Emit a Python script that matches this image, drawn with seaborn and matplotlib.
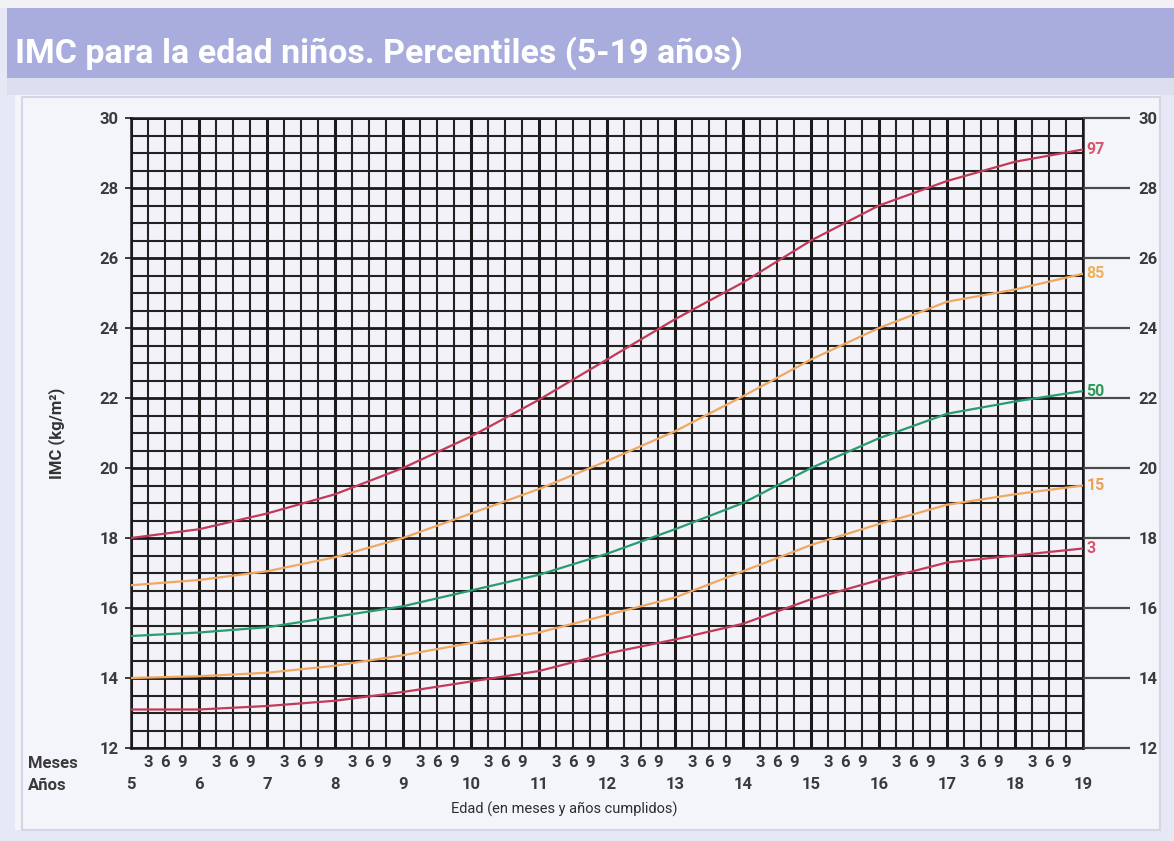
import matplotlib
matplotlib.use("Agg")
import matplotlib.pyplot as plt
from matplotlib.patches import Rectangle
import pandas as pd
import seaborn as sns

# valores (IMC por año cumplido)
edad = [5, 6, 7, 8, 9, 10, 11, 12, 13, 14, 15, 16, 17, 18, 19]
p97 = [18.0, 18.25, 18.7, 19.25, 20.0, 20.9, 21.95, 23.1, 24.25, 25.3, 26.5, 27.5, 28.2, 28.75, 29.1]
p85 = [16.65, 16.8, 17.05, 17.45, 18.0, 18.7, 19.4, 20.2, 21.05, 22.05, 23.1, 24.0, 24.75, 25.1, 25.55]
p50 = [15.2, 15.3, 15.45, 15.75, 16.05, 16.5, 16.95, 17.55, 18.25, 19.0, 20.0, 20.85, 21.55, 21.9, 22.2]
p15 = [14.0, 14.05, 14.15, 14.35, 14.65, 15.0, 15.3, 15.8, 16.3, 17.05, 17.8, 18.4, 18.95, 19.25, 19.5]
p3 = [13.1, 13.1, 13.2, 13.35, 13.6, 13.9, 14.2, 14.7, 15.1, 15.55, 16.25, 16.8, 17.3, 17.5, 17.7]

percentiles = ["97", "85", "50", "15", "3"]
series = [p97, p85, p50, p15, p3]
meses = ["3", "6", "9"]
y_ticks = list(range(12, 31, 2))

titulo = "IMC para la edad niños. Percentiles (5-19 años)"
color_linea = {"97": "#c23a58", "85": "#f0a860", "50": "#2a9a70", "15": "#f0a860", "3": "#c23a58"}
color_texto = {"97": "#d9556b", "85": "#efb05a", "50": "#2e9a56", "15": "#efa050", "3": "#d9556b"}

df = pd.DataFrame({
    "edad": edad * len(series),
    "imc": [v for s in series for v in s],
    "percentil": [p for p, s in zip(percentiles, series) for _ in s],
})

sns.set_theme(style="white")
plt.rcParams["font.family"] = ["Roboto", "DejaVu Sans"]

W, H = 1174, 841
fig = plt.figure(figsize=(W / 100, H / 100), dpi=100, facecolor="#e6e8f5")

def px(x0, y0, x1, y1):
    return (x0 / W, 1 - y1 / H, (x1 - x0) / W, (y1 - y0) / H)

# fondos
for (x0, y0, x1, y1), c in [((0, 0, W, 8), "#f2f2f6"),
                            ((7, 8, W, 78), "#a9addd"),
                            ((7, 78, W, 95), "#dcdff0"),
                            ((15, 95, 1160, 830), "#f4f5fb")]:
    l, b, w, h = px(x0, y0, x1, y1)
    fig.patches.append(Rectangle((l, b), w, h, transform=fig.transFigure,
                                 facecolor=c, edgecolor="none", zorder=-5))
l, b, w, h = px(22, 97, 1160, 830)
fig.patches.append(Rectangle((l, b), w, h, transform=fig.transFigure,
                             facecolor="none", edgecolor="#d4d6e6", lw=1.5, zorder=-4))

fig.text(15 / W, 1 - 63 / H, titulo, color="white", fontsize=24.5,
         fontweight="bold", va="baseline", ha="left")

ax = fig.add_axes(px(131, 118, 1083, 748))
ax.set_facecolor("#f2f2f8")

sns.lineplot(data=df, x="edad", y="imc", hue="percentil", hue_order=percentiles,
             palette=color_linea, legend=False, linewidth=1.6, ax=ax, zorder=3)

ax.set_xlim(5, 19)
ax.set_ylim(12, 30)
ax.set_xticks(edad)
ax.set_xticklabels([str(e) for e in edad])
pos_meses = [e + q / 12 for e in edad[:-1] for q in (3, 6, 9)]
ax.set_xticks(pos_meses, minor=True)
ax.set_xticklabels(meses * (len(edad) - 1), minor=True)
ax.set_yticks(y_ticks)
ax.set_yticks([v / 2 for v in range(24, 61) if v % 4], minor=True)

ax.set_axisbelow(True)
ax.grid(which="major", axis="x", color="#1a1a1a", lw=2.2)
ax.grid(which="minor", axis="x", color="#222222", lw=1.5)
ax.grid(which="major", axis="y", color="#1a1a1a", lw=2.0)
ax.grid(which="minor", axis="y", color="#222222", lw=1.5)
for s in ax.spines.values():
    s.set_color("#1a1a1a")
    s.set_linewidth(1.8)

ax.tick_params(axis="x", which="major", length=9, width=1.8, color="#1a1a1a",
               direction="out", pad=12, labelsize=12, labelcolor="#3a3a3a")
ax.tick_params(axis="x", which="minor", length=0, pad=5, labelsize=12, labelcolor="#3a3a3a")
ax.tick_params(axis="y", which="major", length=4, width=1.2, color="#1a1a1a",
               pad=5, labelsize=12, labelcolor="#3a3a3a")
ax.tick_params(axis="y", which="minor", length=0)
for t in ax.get_xticklabels(which="both") + ax.get_yticklabels():
    t.set_fontweight("bold")

ax.set_xlabel("Edad (en meses y años cumplidos)", fontsize=10.5, color="#2e2e2e")
ax.xaxis.set_label_coords(0.455, -0.085)
ax.set_ylabel("IMC (kg/m²)", fontsize=12, color="#333333", fontweight="bold")
ax.yaxis.set_label_coords(-0.069, 0.5)

ax2 = ax.twinx()
ax2.set_ylim(12, 30)
ax2.set_yticks(y_ticks)
ax2.tick_params(axis="y", length=34, width=1.6, color="#4a4a4a", pad=6,
                labelsize=12, labelcolor="#3a3a3a")
for t in ax2.get_yticklabels():
    t.set_fontweight("bold")
for s in ax2.spines.values():
    s.set_visible(False)

for p, s in zip(percentiles, series):
    ax.text(19.05, s[-1], p, color=color_texto[p], fontsize=11.5, fontweight="bold",
            va="center", ha="left", clip_on=False, zorder=4)

fig.text(28 / W, 1 - 763 / H, "Meses", fontsize=12, fontweight="bold",
         color="#3a3a3a", va="center", ha="left")
fig.text(28 / W, 1 - 786 / H, "Años", fontsize=12, fontweight="bold",
         color="#3a3a3a", va="center", ha="left")

fig.savefig("out.png", dpi=100, facecolor=fig.get_facecolor())
